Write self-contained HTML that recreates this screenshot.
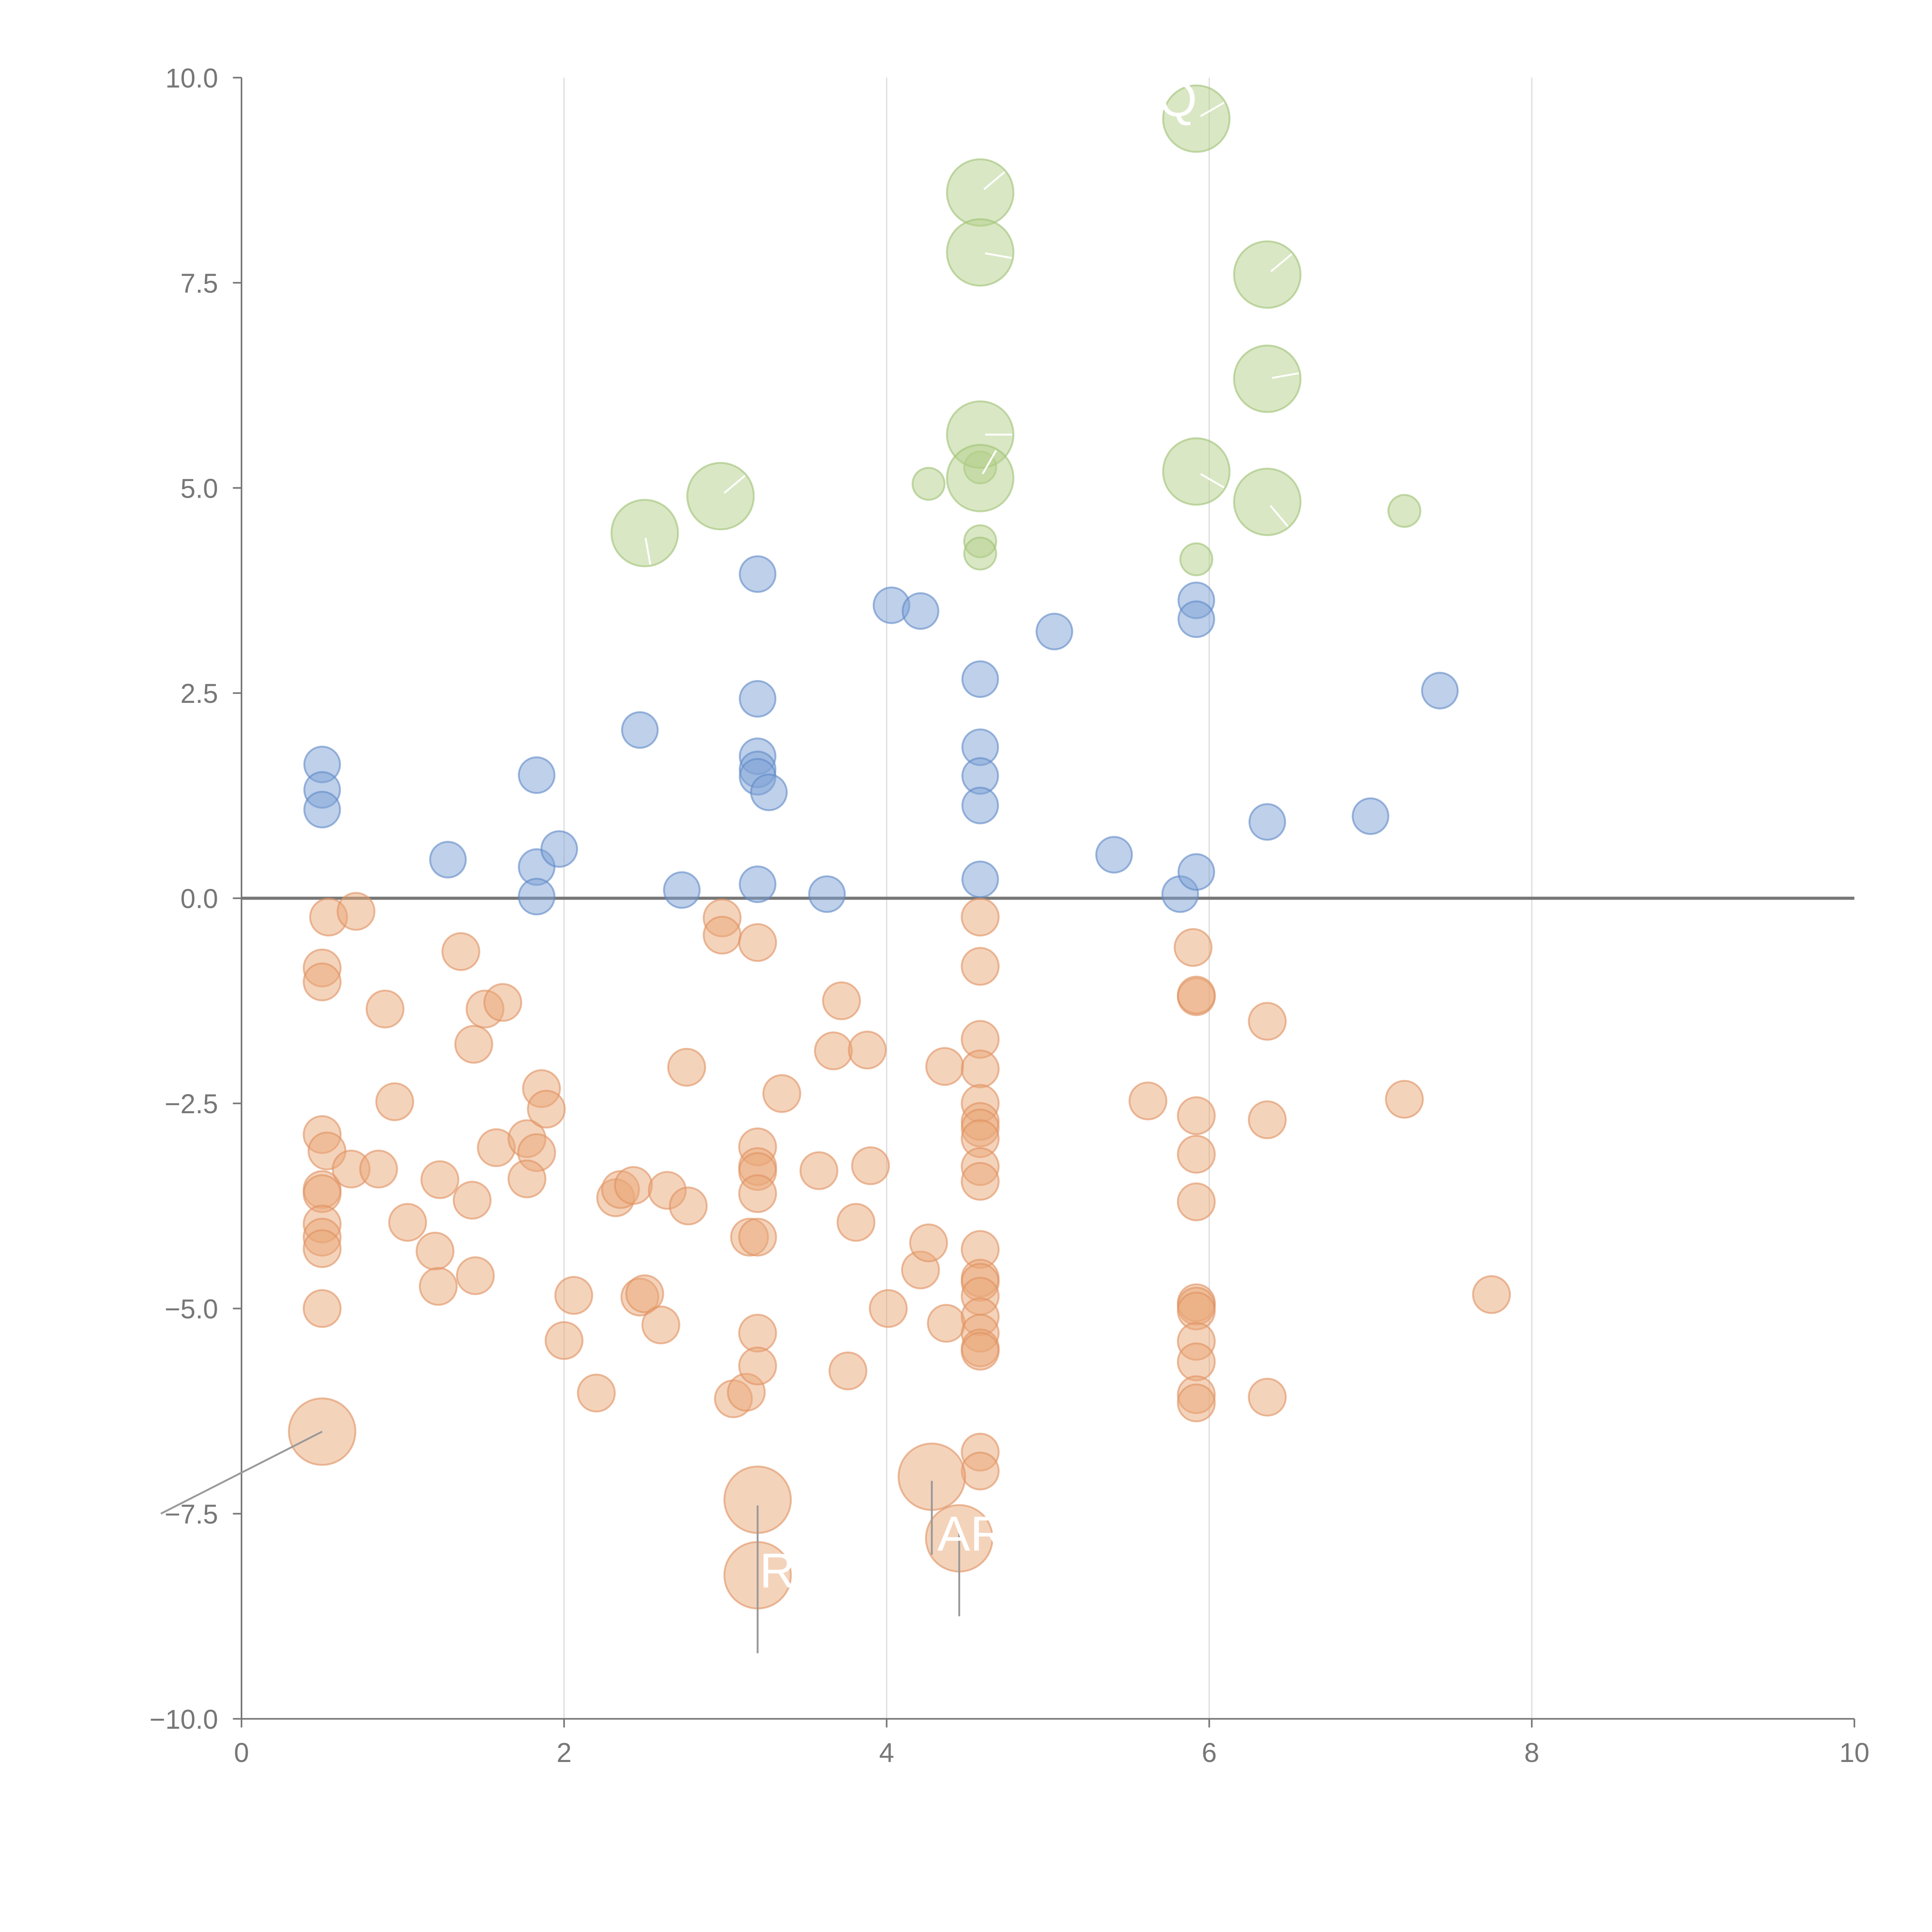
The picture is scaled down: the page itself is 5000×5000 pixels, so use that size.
<!DOCTYPE html>
<html><head><meta charset="utf-8"><style>
html,body{margin:0;padding:0;background:#fff;}
svg{display:block;font-family:"Liberation Sans",Arial,sans-serif;}
</style></head><body>
<svg id="chart" width="5000" height="5000" viewBox="0 0 1568 1568" xmlns="http://www.w3.org/2000/svg">
<g id="grid"></g>
<g id="axes"></g>
<g id="marks"></g>
<g id="labels"></g>
</svg>
<script>
const xTicks=[0,2,4,6,8,10];
const yTicks=[10,7.5,5,2.5,0,-2.5,-5,-7.5,-10];
const yTickLabels=["10.0","7.5","5.0","2.5","0.0","\u22122.5","\u22125.0","\u22127.5","\u221210.0"];
const greenLarge=[[2.5,4.45],[2.97,4.9],[4.58,8.6],[4.58,7.87],[4.58,5.65],[4.58,5.12],[5.92,9.5],[5.92,5.2],[6.36,7.6],[6.36,6.33],[6.36,4.83]];
const greenSmall=[[4.26,5.05],[4.58,5.25],[4.58,4.35],[4.58,4.2],[5.92,4.13],[7.21,4.72]];
const blue=[[0.5,1.63],[0.5,1.32],[0.5,1.08],[1.28,0.47],[1.83,1.5],[1.83,0.38],[1.83,0.02],[1.97,0.6],[2.47,2.05],[2.73,0.1],[3.2,3.95],[3.2,2.43],[3.2,1.73],[3.2,1.57],[3.2,1.48],[3.27,1.29],[3.2,0.17],[3.63,0.05],[4.03,3.57],[4.21,3.5],[4.58,2.67],[4.58,1.84],[4.58,1.49],[4.58,1.13],[4.58,0.23],[5.04,3.25],[5.41,0.53],[5.82,0.05],[5.92,3.63],[5.92,3.4],[5.92,0.32],[6.36,0.93],[7.0,1.0],[7.43,2.53]];
const orange=[[0.5,-0.85],[0.5,-1.02],[0.54,-0.23],[0.71,-0.16],[0.5,-2.88],[0.53,-3.08],[0.5,-3.55],[0.5,-3.6],[0.68,-3.3],[0.5,-3.97],[0.5,-4.13],[0.5,-4.27],[0.5,-5.0],[0.89,-1.35],[0.95,-2.48],[0.85,-3.3],[1.03,-3.95],[1.2,-4.3],[1.22,-4.73],[1.23,-3.43],[1.36,-0.65],[1.44,-1.78],[1.51,-1.35],[1.62,-1.27],[1.43,-3.68],[1.45,-4.6],[1.58,-3.04],[1.77,-2.93],[1.83,-3.1],[1.86,-2.32],[1.89,-2.57],[1.77,-3.42],[2.0,-5.39],[2.06,-4.84],[2.2,-6.03],[2.32,-3.65],[2.35,-3.55],[2.43,-3.5],[2.47,-4.86],[2.5,-4.82],[2.6,-5.2],[2.64,-3.56],[2.77,-3.75],[2.76,-2.06],[2.98,-0.24],[2.98,-0.45],[3.2,-0.54],[3.05,-6.1],[3.13,-6.02],[3.15,-4.13],[3.2,-4.13],[3.2,-3.03],[3.2,-3.27],[3.2,-3.33],[3.2,-3.6],[3.2,-5.3],[3.2,-5.7],[3.35,-2.38],[3.58,-3.32],[3.67,-1.86],[3.72,-1.25],[3.76,-5.76],[3.81,-3.95],[3.88,-1.85],[3.9,-3.26],[4.01,-5.0],[4.21,-4.53],[4.26,-4.2],[4.36,-2.05],[4.37,-5.18],[4.58,-0.23],[4.58,-0.83],[4.58,-1.72],[4.58,-2.08],[4.58,-2.5],[4.58,-2.72],[4.58,-2.8],[4.58,-2.93],[4.58,-3.27],[4.58,-3.45],[4.58,-4.28],[4.58,-4.63],[4.58,-4.68],[4.58,-4.85],[4.58,-5.1],[4.58,-5.3],[4.58,-5.48],[4.58,-5.52],[4.58,-6.75],[4.58,-6.98],[5.62,-2.47],[5.9,-0.6],[5.92,-1.2],[5.92,-1.18],[5.92,-2.65],[5.92,-3.12],[5.92,-3.7],[5.92,-4.93],[5.92,-4.97],[5.92,-5.03],[5.92,-5.4],[5.92,-5.65],[5.92,-6.05],[5.92,-6.15],[6.36,-1.5],[6.36,-2.7],[6.36,-6.08],[7.21,-2.45],[7.75,-4.83]];
const orangeLarge=[[0.5,-6.5],[3.2,-7.33],[3.2,-8.25],[4.28,-7.05],[4.45,-7.8]];
const pointLabels=[["R",3.2,-8.25],["AR",4.45,-7.8],["Q",5.92,9.5]];

const NS="http://www.w3.org/2000/svg";
const X0=196,X1=1505,Y0=1395,Y1=63;
const sx=v=>X0+(v-0)/(10-0)*(X1-X0);
const sy=v=>Y0-(v+10)/20*(Y0-Y1);
function mk(tag,attrs,parent){const e=document.createElementNS(NS,tag);for(const k in attrs)e.setAttribute(k,attrs[k]);parent.appendChild(e);return e;}
const grid=document.getElementById('grid'),axes=document.getElementById('axes'),marks=document.getElementById('marks'),labels=document.getElementById('labels');
const ax="#777";
xTicks.forEach(t=>{
  if(t>0&&t<10){const g=mk('line',{x1:sx(t),x2:sx(t),y1:Y1,y2:Y0,stroke:"#ddd","stroke-width":1},grid);
  
  }
  const tk=mk('line',{x1:sx(t),x2:sx(t),y1:Y0,y2:Y0+7,stroke:ax,"stroke-width":1.3},axes);
  
  
  const tx=mk('text',{x:sx(t),y:Y0+35,"text-anchor":"middle","font-size":22,fill:ax},axes);
  tx.textContent=String(t);
  
  
});
yTicks.forEach((t,i)=>{
  const tk=mk('line',{x1:X0-7,x2:X0,y1:sy(t),y2:sy(t),stroke:ax,"stroke-width":1.3},axes);
  
  
  const tx=mk('text',{x:X0-19,y:sy(t)+8,"text-anchor":"end","font-size":22,fill:ax},axes);
  tx.textContent=yTickLabels[i];
  
  
});
let l=mk('line',{x1:X0,x2:X0,y1:Y1,y2:Y0,stroke:ax,"stroke-width":1.3},axes);


l=mk('line',{x1:X0,x2:X1,y1:Y0,y2:Y0,stroke:ax,"stroke-width":1.3},axes);


l=mk('line',{x1:X0,x2:X1,y1:sy(0),y2:sy(0),stroke:"#777","stroke-width":2.5},axes);



function draw(arr,r,fill,stroke,name){
  arr.forEach(d=>{
    const c=mk('circle',{cx:sx(d[0]),cy:sy(d[1]),r:r,fill:fill,"fill-opacity":0.5,stroke:stroke,"stroke-opacity":0.6,"stroke-width":1.5},marks);
    
    
  });
}
draw(blue,14.5,"#7da2d6","#5f88c6","blue-point");
draw(orange,15,"#e9a878","#df9160","orange-point");
draw(orangeLarge,27,"#e9a878","#df9160","orange-large-point");
draw(greenSmall,13,"#b3d08a","#9fc274","green-small-point");
draw(greenLarge,27,"#b3d08a","#9fc274","green-large-point");

const lead=[[0.5,-6.5,-0.5,-7.5],[3.2,-7.4,3.2,-9.2],[4.28,-7.1,4.28,-8.0],[4.45,-7.7,4.45,-8.75]];
lead.forEach(s=>{
  const e=mk('line',{x1:sx(s[0]),y1:sy(s[1]),x2:sx(s[2]),y2:sy(s[3]),stroke:"#999","stroke-width":1.5},labels);
  
  
});
greenLarge.forEach((d,i)=>{
  const ang=[80,-40,-40,10,0,-60,-30,30,-40,-10,50][i]*Math.PI/180;
  const e=mk('line',{x1:sx(d[0])+4*Math.cos(ang),y1:sy(d[1])+4*Math.sin(ang),x2:sx(d[0])+26*Math.cos(ang),y2:sy(d[1])+26*Math.sin(ang),stroke:"#fff","stroke-width":1.5},labels);
  
  
});
pointLabels.forEach(p=>{
  const dx=p[0]==="R"?16:(p[0]==="Q"?-15:10);
  const t=mk('text',{x:sx(p[1])+dx,y:sy(p[2])+(p[0]==="Q"?-2:10),"text-anchor":"middle","font-size":40,fill:"#fff"},labels);
  t.textContent=p[0];
  
  
});
</script>
</body></html>
